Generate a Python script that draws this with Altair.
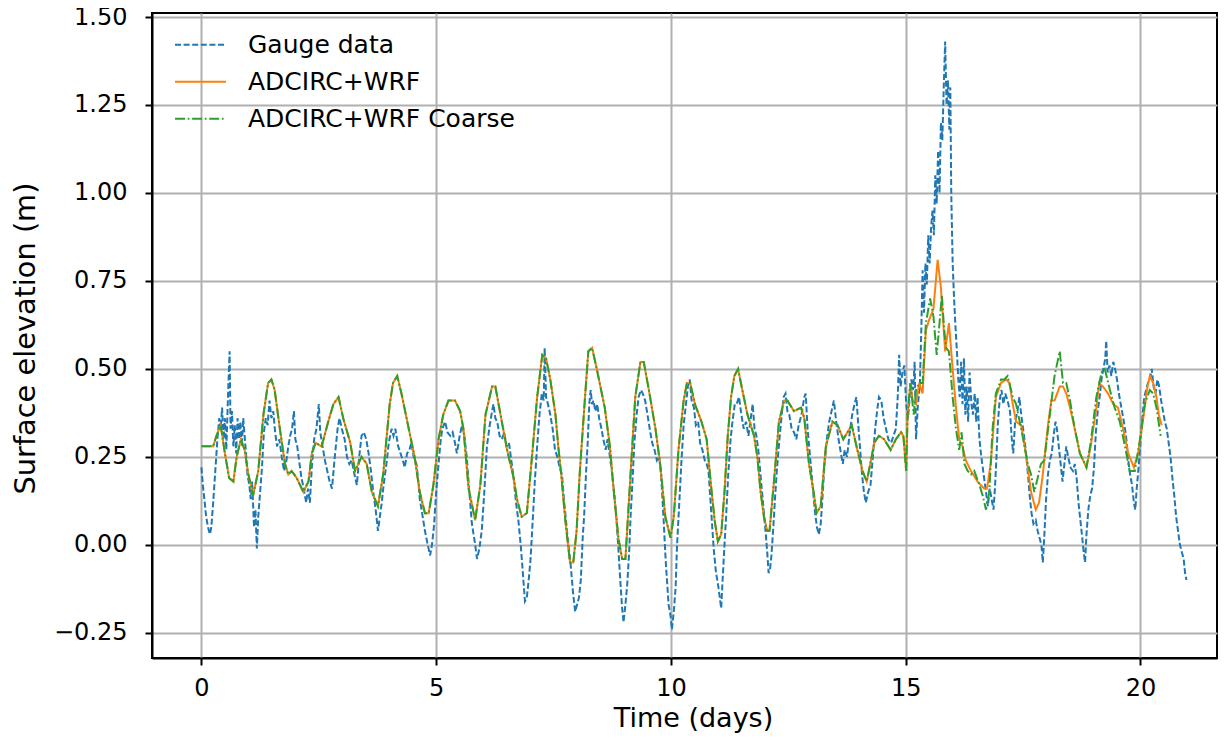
import altair as alt
import pandas as pd

TITLE = "Bob Hall Pier Corpus Christi"
SERIES = ["Gauge data", "ADCIRC+WRF", "ADCIRC+WRF Coarse"]
COLORS = ["#1f77b4", "#ff7f0e", "#2ca02c"]
DASHES = [[6, 2.6], [1, 0], [10, 2.7, 1.7, 2.7]]
X_TICKS = [0, 5, 10, 15, 20]
Y_TICKS = [-0.25, 0.0, 0.25, 0.5, 0.75, 1.0, 1.25, 1.5]

# Gauge data (day, surface elevation m)
gauge = [
    (0.00, 0.22), (0.03, 0.17), (0.07, 0.12), (0.10, 0.08), (0.14, 0.05), (0.18, 0.03),
    (0.21, 0.05), (0.25, 0.12), (0.30, 0.22), (0.34, 0.30), (0.38, 0.36), (0.41, 0.33),
    (0.44, 0.39), (0.47, 0.30), (0.50, 0.36), (0.53, 0.27), (0.56, 0.40), (0.60, 0.55),
    (0.62, 0.33), (0.65, 0.38), (0.68, 0.28), (0.71, 0.34), (0.74, 0.26), (0.77, 0.36),
    (0.80, 0.30), (0.83, 0.35), (0.86, 0.28), (0.89, 0.36), (0.92, 0.31), (0.95, 0.26),
    (0.98, 0.20), (1.02, 0.17), (1.05, 0.13), (1.08, 0.18), (1.12, 0.05), (1.15, 0.10),
    (1.18, -0.01), (1.21, 0.08), (1.25, 0.15), (1.29, 0.22), (1.33, 0.32), (1.37, 0.36),
    (1.41, 0.34), (1.45, 0.41), (1.49, 0.36), (1.53, 0.38), (1.57, 0.32), (1.61, 0.28),
    (1.66, 0.30), (1.71, 0.25), (1.76, 0.21), (1.80, 0.23), (1.85, 0.28), (1.89, 0.31),
    (1.93, 0.33), (1.97, 0.38), (2.00, 0.30), (2.04, 0.28), (2.08, 0.24), (2.13, 0.19),
    (2.18, 0.16), (2.23, 0.12), (2.27, 0.16), (2.31, 0.12), (2.35, 0.22), (2.40, 0.30),
    (2.45, 0.33), (2.50, 0.40), (2.53, 0.32), (2.58, 0.28), (2.63, 0.24), (2.68, 0.21),
    (2.73, 0.18), (2.78, 0.16), (2.84, 0.25), (2.90, 0.33), (2.94, 0.36), (2.99, 0.33),
    (3.05, 0.30), (3.10, 0.25), (3.15, 0.23), (3.20, 0.24), (3.26, 0.20), (3.31, 0.17),
    (3.36, 0.25), (3.41, 0.31), (3.46, 0.32), (3.51, 0.30), (3.56, 0.26), (3.61, 0.21),
    (3.66, 0.15), (3.71, 0.10), (3.76, 0.04), (3.80, 0.08), (3.84, 0.12),
    (3.88, 0.17), (3.94, 0.23), (3.99, 0.29), (4.05, 0.33), (4.09, 0.31), (4.13, 0.33),
    (4.19, 0.28), (4.24, 0.26), (4.29, 0.24), (4.33, 0.22), (4.38, 0.26), (4.43, 0.27),
    (4.47, 0.29), (4.52, 0.25), (4.58, 0.23), (4.62, 0.18), (4.65, 0.13), (4.70, 0.09),
    (4.76, 0.04), (4.82, 0.00), (4.87, -0.03), (4.91, 0.00), (4.95, 0.05), (5.00, 0.15),
    (5.05, 0.23), (5.09, 0.29), (5.13, 0.33), (5.19, 0.35), (5.24, 0.32), (5.30, 0.31),
    (5.35, 0.32), (5.40, 0.29), (5.44, 0.26), (5.50, 0.31), (5.55, 0.34), (5.60, 0.31),
    (5.65, 0.25), (5.70, 0.16), (5.76, 0.06), (5.82, 0.01), (5.87, -0.04), (5.92, -0.01),
    (5.97, 0.04), (6.02, 0.14), (6.08, 0.28), (6.14, 0.34), (6.19, 0.38), (6.22, 0.40),
    (6.26, 0.36), (6.30, 0.35), (6.35, 0.31), (6.40, 0.30), (6.45, 0.32), (6.50, 0.28),
    (6.55, 0.29), (6.60, 0.24), (6.65, 0.19), (6.70, 0.12), (6.75, 0.07), (6.80, 0.00),
    (6.84, -0.07), (6.89, -0.16), (6.93, -0.15), (6.97, -0.10), (7.01, -0.04), (7.06, 0.08),
    (7.10, 0.18), (7.15, 0.28), (7.20, 0.37), (7.25, 0.43), (7.29, 0.41), (7.31, 0.56),
    (7.34, 0.42), (7.38, 0.40), (7.43, 0.37), (7.48, 0.33), (7.53, 0.27),
    (7.58, 0.25), (7.63, 0.22), (7.68, 0.20), (7.72, 0.13), (7.75, 0.09), (7.80, 0.02),
    (7.86, -0.05), (7.91, -0.13), (7.96, -0.19), (8.00, -0.17), (8.04, -0.15), (8.08, -0.10),
    (8.12, 0.02), (8.15, 0.08), (8.19, 0.20), (8.23, 0.30), (8.26, 0.40), (8.29, 0.44),
    (8.32, 0.40), (8.35, 0.41), (8.39, 0.38), (8.43, 0.40), (8.47, 0.36), (8.52, 0.33),
    (8.56, 0.30), (8.61, 0.27), (8.65, 0.30), (8.70, 0.25), (8.74, 0.21), (8.79, 0.15),
    (8.84, 0.07), (8.88, -0.01), (8.92, -0.10), (8.96, -0.18), (8.99, -0.22), (9.03, -0.17),
    (9.07, -0.11), (9.11, -0.02), (9.14, 0.08), (9.18, 0.18), (9.22, 0.29), (9.27, 0.37),
    (9.31, 0.42), (9.36, 0.44), (9.40, 0.43), (9.45, 0.41), (9.50, 0.37), (9.56, 0.32),
    (9.60, 0.29), (9.65, 0.27), (9.70, 0.24), (9.75, 0.25), (9.79, 0.20), (9.84, 0.08),
    (9.89, -0.05), (9.95, -0.17), (9.99, -0.20), (10.02, -0.24), (10.06, -0.19), (10.10, -0.12),
    (10.13, 0.00), (10.17, 0.10), (10.22, 0.23), (10.27, 0.34), (10.32, 0.40), (10.36, 0.45),
    (10.40, 0.47), (10.44, 0.41), (10.49, 0.39), (10.53, 0.34), (10.58, 0.35), (10.62, 0.29),
    (10.67, 0.27), (10.72, 0.24), (10.76, 0.23), (10.80, 0.21), (10.86, 0.09), (10.91, -0.01),
    (10.96, -0.08), (11.00, -0.11), (11.04, -0.15), (11.07, -0.18), (11.10, -0.10), (11.14, 0.00),
    (11.17, 0.07), (11.22, 0.20), (11.27, 0.30), (11.31, 0.35), (11.36, 0.40),
    (11.40, 0.40), (11.45, 0.42), (11.50, 0.37), (11.55, 0.33), (11.60, 0.35), (11.65, 0.31),
    (11.70, 0.36), (11.74, 0.40), (11.78, 0.33), (11.82, 0.31), (11.86, 0.27), (11.90, 0.21),
    (11.94, 0.15), (11.98, 0.09), (12.02, 0.03), (12.05, -0.02), (12.08, -0.08), (12.11, -0.07),
    (12.14, -0.03), (12.18, 0.05), (12.22, 0.14), (12.26, 0.22), (12.31, 0.30), (12.36, 0.37),
    (12.40, 0.42), (12.44, 0.43), (12.48, 0.38), (12.52, 0.37), (12.57, 0.33), (12.62, 0.32),
    (12.67, 0.30), (12.72, 0.34), (12.78, 0.37), (12.84, 0.42), (12.87, 0.43), (12.91, 0.33),
    (12.95, 0.27), (12.99, 0.21), (13.03, 0.15), (13.07, 0.09), (13.11, 0.05), (13.15, 0.03),
    (13.19, 0.06), (13.23, 0.14), (13.27, 0.23), (13.32, 0.30), (13.37, 0.35), (13.42, 0.38),
    (13.47, 0.41), (13.52, 0.35), (13.57, 0.30), (13.62, 0.26), (13.66, 0.23), (13.70, 0.27),
    (13.75, 0.25), (13.80, 0.31), (13.86, 0.37), (13.91, 0.40), (13.95, 0.42), (13.99, 0.34),
    (14.03, 0.27), (14.07, 0.20), (14.11, 0.15), (14.15, 0.12), (14.20, 0.15), (14.25, 0.17),
    (14.30, 0.25), (14.35, 0.33), (14.39, 0.38), (14.43, 0.42), (14.48, 0.41), (14.53, 0.36),
    (14.58, 0.33), (14.63, 0.30), (14.69, 0.29), (14.74, 0.31), (14.79, 0.33), (14.83, 0.42),
    (14.86, 0.54), (14.89, 0.45), (14.93, 0.49), (14.97, 0.51), (15.01, 0.40), (15.05, 0.36),
    (15.09, 0.43), (15.12, 0.47), (15.16, 0.44), (15.19, 0.52), (15.22, 0.30), (15.26, 0.40),
    (15.30, 0.45), (15.33, 0.60), (15.36, 0.78), (15.39, 0.66), (15.42, 0.80), (15.45, 0.74),
    (15.48, 0.88), (15.51, 0.80), (15.54, 0.90), (15.57, 0.95), (15.60, 0.88), (15.63, 1.05),
    (15.66, 0.97), (15.69, 1.12), (15.72, 1.00), (15.75, 1.20), (15.78, 1.15), (15.81, 1.30),
    (15.84, 1.43), (15.87, 1.25), (15.90, 1.32), (15.93, 1.18), (15.95, 1.30), (15.97, 1.00),
    (16.00, 0.80), (16.03, 0.70), (16.06, 0.62), (16.09, 0.55), (16.12, 0.47), (16.15, 0.42),
    (16.18, 0.52), (16.21, 0.40), (16.24, 0.53), (16.27, 0.37), (16.30, 0.45), (16.33, 0.35),
    (16.36, 0.49), (16.40, 0.40), (16.43, 0.37), (16.47, 0.43), (16.50, 0.35), (16.53, 0.42),
    (16.57, 0.30), (16.61, 0.25), (16.64, 0.22), (16.68, 0.18), (16.72, 0.14), (16.75, 0.11),
    (16.79, 0.16), (16.83, 0.13), (16.87, 0.10), (16.90, 0.16), (16.93, 0.24), (16.96, 0.34),
    (17.00, 0.41), (17.04, 0.44), (17.08, 0.40), (17.12, 0.43), (17.17, 0.41), (17.22, 0.38),
    (17.26, 0.30), (17.29, 0.26), (17.33, 0.35), (17.38, 0.38), (17.42, 0.42), (17.46, 0.37),
    (17.50, 0.33), (17.54, 0.29), (17.57, 0.25), (17.61, 0.19), (17.64, 0.14), (17.68, 0.09),
    (17.72, 0.06), (17.77, 0.07), (17.81, 0.04), (17.85, 0.02), (17.89, 0.00), (17.92, -0.05),
    (17.95, 0.02), (17.99, 0.13), (18.03, 0.20), (18.07, 0.24), (18.11, 0.26), (18.15, 0.31),
    (18.19, 0.35), (18.22, 0.33), (18.26, 0.28), (18.30, 0.23), (18.34, 0.18), (18.38, 0.23),
    (18.42, 0.28), (18.46, 0.25), (18.51, 0.22), (18.56, 0.21), (18.60, 0.23), (18.64, 0.19),
    (18.68, 0.12), (18.72, 0.07), (18.76, 0.02), (18.79, -0.02), (18.82, -0.05), (18.85, 0.03),
    (18.89, 0.10), (18.93, 0.14), (18.97, 0.16), (19.01, 0.22), (19.05, 0.32), (19.09, 0.38),
    (19.13, 0.42), (19.17, 0.47), (19.21, 0.50), (19.25, 0.53), (19.27, 0.58), (19.30, 0.49),
    (19.34, 0.51), (19.38, 0.48), (19.42, 0.52), (19.46, 0.50), (19.50, 0.47), (19.54, 0.43),
    (19.58, 0.40), (19.62, 0.37), (19.66, 0.34), (19.70, 0.30), (19.74, 0.24), (19.78, 0.20),
    (19.82, 0.17), (19.86, 0.12), (19.89, 0.10), (19.92, 0.16), (19.96, 0.22), (20.00, 0.29),
    (20.04, 0.36), (20.08, 0.42), (20.12, 0.44), (20.16, 0.46), (20.20, 0.47), (20.24, 0.50),
    (20.28, 0.45), (20.32, 0.43), (20.36, 0.47), (20.40, 0.45), (20.44, 0.41), (20.48, 0.38),
    (20.52, 0.35), (20.56, 0.33), (20.60, 0.29), (20.64, 0.25), (20.68, 0.19), (20.72, 0.14),
    (20.76, 0.08), (20.80, 0.04), (20.84, 0.00), (20.88, -0.02), (20.92, -0.04), (20.95, -0.08),
    (20.98, -0.10),
]

# ADCIRC+WRF model (day, m)
wrf = [
    (0.00, 0.28), (0.25, 0.28), (0.32, 0.31), (0.41, 0.34), (0.50, 0.26), (0.59, 0.19),
    (0.68, 0.18), (0.75, 0.25), (0.84, 0.30), (0.92, 0.27), (1.00, 0.20), (1.10, 0.14),
    (1.21, 0.21), (1.32, 0.37), (1.42, 0.46), (1.49, 0.47), (1.56, 0.44), (1.67, 0.33),
    (1.78, 0.23), (1.85, 0.20), (1.92, 0.21), (2.03, 0.19), (2.17, 0.15), (2.28, 0.18),
    (2.35, 0.26), (2.43, 0.29), (2.56, 0.28), (2.70, 0.35), (2.81, 0.40), (2.92, 0.42),
    (3.02, 0.36), (3.17, 0.29), (3.27, 0.21), (3.41, 0.25), (3.52, 0.23), (3.63, 0.15),
    (3.76, 0.11), (3.87, 0.20), (4.01, 0.40), (4.08, 0.46), (4.17, 0.48), (4.26, 0.43),
    (4.40, 0.34), (4.54, 0.25), (4.65, 0.15), (4.76, 0.09), (4.84, 0.09), (4.94, 0.17),
    (5.05, 0.30), (5.15, 0.37), (5.26, 0.41), (5.40, 0.41), (5.51, 0.38), (5.58, 0.33),
    (5.69, 0.16), (5.83, 0.07), (5.94, 0.17), (6.05, 0.37), (6.19, 0.45), (6.26, 0.45),
    (6.37, 0.37), (6.51, 0.27), (6.65, 0.19), (6.72, 0.13), (6.82, 0.08), (6.93, 0.09),
    (7.04, 0.25), (7.15, 0.42), (7.26, 0.54), (7.34, 0.53), (7.43, 0.47), (7.54, 0.37),
    (7.60, 0.28), (7.67, 0.19), (7.75, 0.07), (7.85, -0.05), (7.92, -0.05), (7.99, 0.04),
    (8.06, 0.21), (8.17, 0.42), (8.24, 0.55), (8.32, 0.56), (8.42, 0.50), (8.59, 0.39),
    (8.70, 0.28), (8.77, 0.17), (8.88, 0.02), (8.96, -0.04), (9.03, -0.04), (9.13, 0.18),
    (9.24, 0.42), (9.35, 0.52), (9.42, 0.52), (9.53, 0.44), (9.67, 0.33), (9.77, 0.23),
    (9.88, 0.08), (9.99, 0.02), (10.06, 0.08), (10.16, 0.27), (10.27, 0.41), (10.34, 0.46),
    (10.41, 0.46), (10.51, 0.40), (10.65, 0.35), (10.76, 0.30), (10.86, 0.16), (10.93, 0.07),
    (11.00, 0.01), (11.07, 0.03), (11.14, 0.15), (11.21, 0.31), (11.28, 0.42), (11.35, 0.48),
    (11.43, 0.50), (11.52, 0.44), (11.63, 0.37), (11.77, 0.31), (11.84, 0.25), (11.91, 0.15),
    (11.98, 0.08), (12.05, 0.04), (12.10, 0.04), (12.20, 0.19), (12.30, 0.35), (12.41, 0.41),
    (12.48, 0.41), (12.62, 0.38), (12.77, 0.39), (12.84, 0.36), (12.94, 0.23), (13.05, 0.14),
    (13.10, 0.09), (13.19, 0.11), (13.30, 0.28), (13.44, 0.35), (13.55, 0.34), (13.67, 0.30),
    (13.76, 0.32), (13.85, 0.34), (13.97, 0.27), (14.08, 0.21), (14.17, 0.18), (14.26, 0.24),
    (14.33, 0.29), (14.43, 0.31), (14.54, 0.30), (14.68, 0.27), (14.79, 0.30), (14.90, 0.32),
    (14.95, 0.31), (15.01, 0.21), (15.04, 0.37), (15.10, 0.46),
    (15.15, 0.41), (15.22, 0.40), (15.29, 0.46), (15.36, 0.43), (15.43, 0.61), (15.50, 0.64),
    (15.59, 0.67), (15.68, 0.81), (15.75, 0.73), (15.84, 0.55), (15.87, 0.58), (15.92, 0.63),
    (16.00, 0.50), (16.07, 0.39), (16.14, 0.30), (16.21, 0.28), (16.28, 0.24), (16.39, 0.21),
    (16.53, 0.18), (16.67, 0.16), (16.73, 0.16), (16.81, 0.23), (16.92, 0.42), (17.03, 0.46),
    (17.14, 0.47), (17.21, 0.46), (17.28, 0.40), (17.35, 0.35), (17.46, 0.34), (17.57, 0.25),
    (17.67, 0.15), (17.77, 0.10), (17.84, 0.12), (17.92, 0.20), (18.03, 0.34), (18.10, 0.41),
    (18.17, 0.41), (18.28, 0.45), (18.35, 0.45), (18.42, 0.43), (18.50, 0.39), (18.60, 0.33),
    (18.71, 0.26), (18.85, 0.22), (18.94, 0.28), (19.06, 0.39), (19.12, 0.46), (19.20, 0.45),
    (19.31, 0.43), (19.42, 0.40), (19.52, 0.39), (19.63, 0.33), (19.74, 0.26), (19.86, 0.22),
    (19.95, 0.26), (20.06, 0.36), (20.15, 0.45), (20.20, 0.48), (20.27, 0.46), (20.34, 0.42),
    (20.39, 0.37), (20.45, 0.34),
]

# ADCIRC+WRF Coarse: same as WRF up to day 15.10, then its own values
coarse_split_day = 15.10
coarse_tail = [
    (15.17, 0.37), (15.22, 0.44), (15.29, 0.46), (15.36, 0.46), (15.43, 0.63), (15.52, 0.70),
    (15.59, 0.65), (15.66, 0.54), (15.72, 0.63), (15.77, 0.71), (15.82, 0.61), (15.86, 0.56),
    (15.92, 0.55), (16.00, 0.42), (16.07, 0.33), (16.14, 0.27), (16.19, 0.32), (16.25, 0.23),
    (16.32, 0.21), (16.39, 0.20), (16.46, 0.21), (16.57, 0.17), (16.64, 0.14), (16.71, 0.10),
    (16.78, 0.15), (16.85, 0.33), (16.92, 0.43), (17.03, 0.47), (17.10, 0.47), (17.17, 0.48),
    (17.28, 0.42), (17.35, 0.40), (17.46, 0.33), (17.60, 0.23), (17.67, 0.20), (17.74, 0.15),
    (17.81, 0.19), (17.88, 0.23), (17.95, 0.24), (18.07, 0.37), (18.17, 0.48), (18.28, 0.55),
    (18.35, 0.46), (18.42, 0.46), (18.50, 0.41), (18.60, 0.33), (18.71, 0.26), (18.85, 0.22),
    (18.94, 0.29), (19.06, 0.42), (19.17, 0.49), (19.24, 0.50), (19.35, 0.44), (19.45, 0.39),
    (19.56, 0.35), (19.67, 0.28), (19.77, 0.21), (19.88, 0.21), (19.99, 0.30), (20.09, 0.40),
    (20.20, 0.44), (20.27, 0.43), (20.34, 0.39), (20.43, 0.31),
]
coarse = [p for p in wrf if p[0] <= coarse_split_day] + coarse_tail


def frame(pairs, name):
    df = pd.DataFrame(pairs, columns=["t", "v"])
    df["series"] = name
    df["order"] = range(len(df))
    return df


FONT = "DejaVu Sans"

color_scale = alt.Scale(domain=SERIES, range=COLORS)
dash_scale = alt.Scale(domain=SERIES, range=DASHES)

x_enc = alt.X(
    "t:Q",
    scale=alt.Scale(domain=[-1.053, 21.63], nice=False, zero=False),
    axis=alt.Axis(
        values=X_TICKS, format="d", title="Time (days)",
        titleX=541, titleY=68.5, titleBaseline="alphabetic", titleAlign="center",
        titleFontSize=27, labelPadding=11,
    ),
)
y_enc = alt.Y(
    "v:Q",
    scale=alt.Scale(domain=[-0.3215, 1.5114], nice=False, zero=False),
    axis=alt.Axis(
        values=Y_TICKS, format=".2f", title="Surface elevation (m)",
        titleX=-118, titleY=325, titleBaseline="alphabetic", titleAlign="center",
        titleAngle=270, labelPadding=18,
    ),
)
legend = alt.Legend(
    title=None, orient="none", legendX=22, legendY=13.5,
    symbolType="stroke", symbolSize=2601, symbolStrokeWidth=2,
    labelFontSize=25, labelFont=FONT, labelColor="black", labelOffset=21,
    labelLimit=0, rowPadding=0, clipHeight=36.7, padding=0, values=SERIES,
)


def layer(pairs, name):
    return alt.Chart(frame(pairs, name)).mark_line(strokeWidth=2).encode(
        x=x_enc,
        y=y_enc,
        order="order:Q",
        color=alt.Color("series:N", scale=color_scale, legend=legend, sort=SERIES),
        strokeDash=alt.StrokeDash("series:N", scale=dash_scale, legend=legend, sort=SERIES),
    )


chart = alt.layer(
    layer(gauge, SERIES[0]),
    layer(wrf, SERIES[1]),
    layer(coarse, SERIES[2]),
).properties(
    width=1065,
    height=645,
    background="white",
    title=alt.TitleParams(
        TITLE, fontSize=28.8, font=FONT, fontWeight="normal", color="black",
        anchor="middle", baseline="alphabetic", offset=9,
    ),
    autosize=alt.AutoSizeParams(type="none"),
    padding={"left": 144, "top": 5, "right": 1, "bottom": 75},
).configure_view(
    stroke="black", strokeWidth=2
).configure_axis(
    grid=True, gridColor="#b0b0b0", gridWidth=2,
    domainColor="black", domainWidth=2,
    tickColor="black", tickWidth=2, tickSize=7,
    labelFont=FONT, labelFontSize=24, labelColor="black",
    titleFont=FONT, titleFontSize=28.8, titleFontWeight="normal", titleColor="black",
)

chart.save("out.html", embed_options={"renderer": "svg", "actions": False})
